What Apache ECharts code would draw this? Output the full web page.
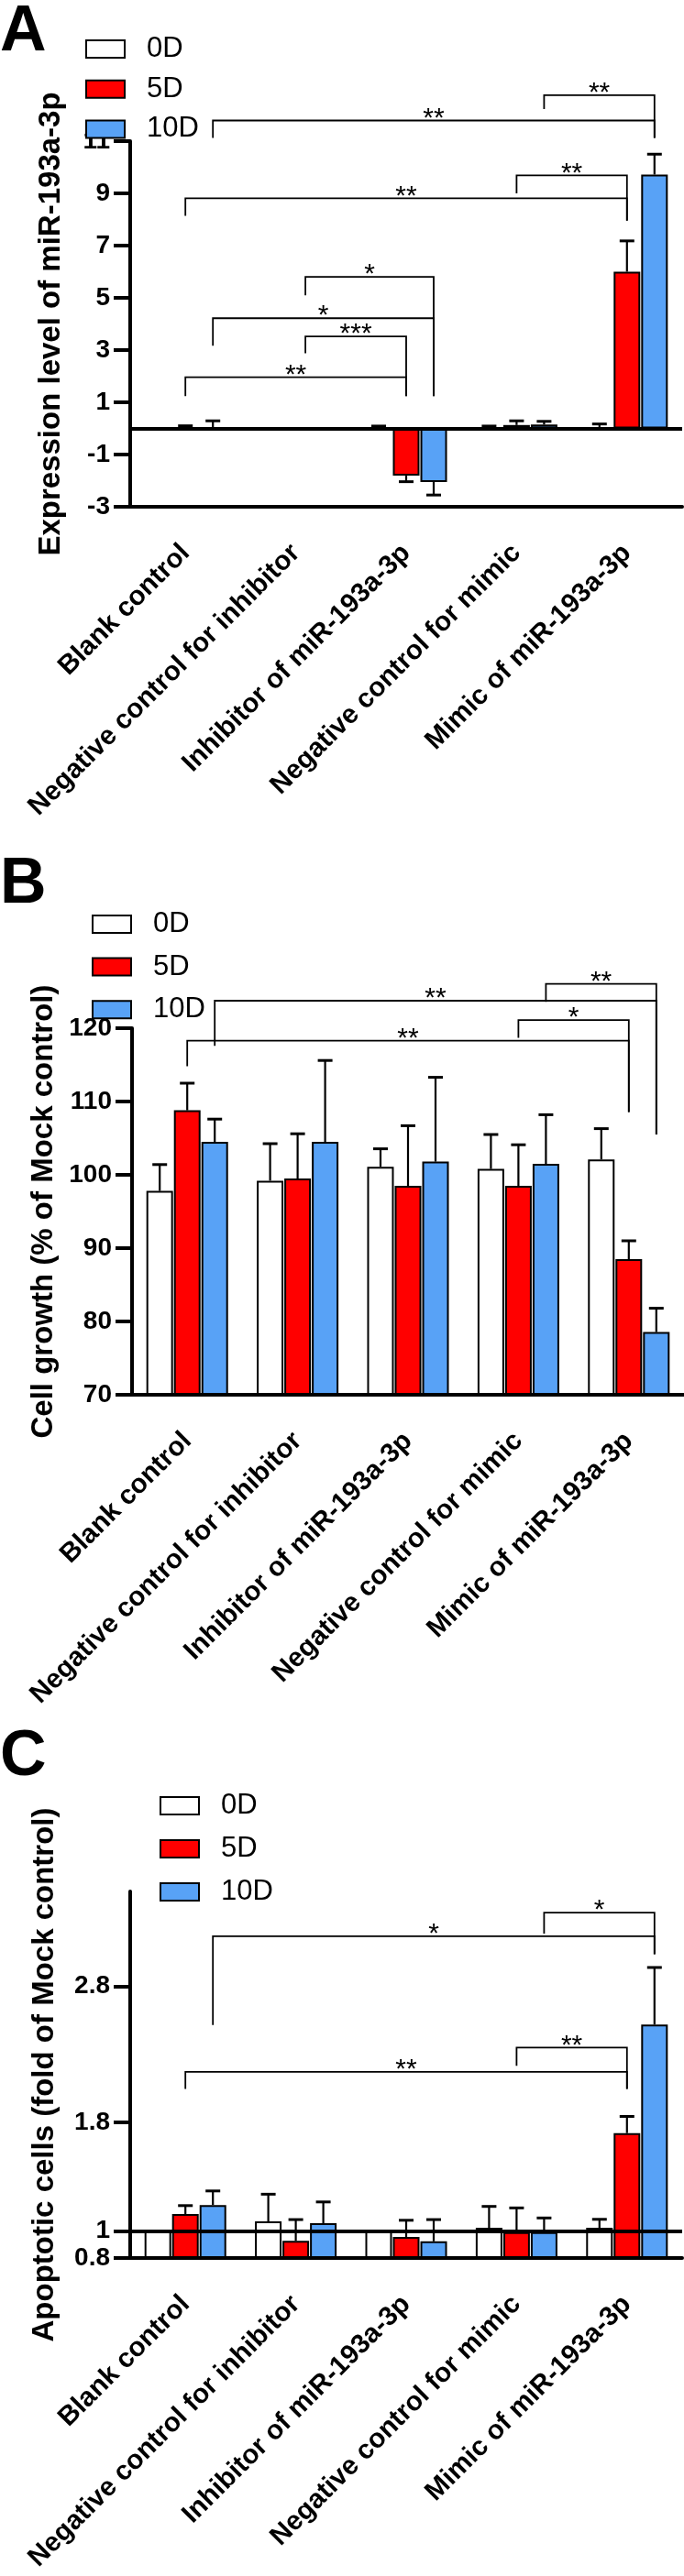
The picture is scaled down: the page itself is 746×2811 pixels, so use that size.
<!DOCTYPE html>
<html><head><meta charset="utf-8">
<script src="https://cdn.jsdelivr.net/npm/echarts@6.0.0/dist/echarts.min.js"></script>
<style>html,body{margin:0;padding:0;background:#fff}#chart{width:746px;height:2811px}</style>
</head><body><div id="chart"></div>
<script>
// ---------- data ----------
const categories = ['Blank control', 'Negative control for inhibitor', 'Inhibitor of miR-193a-3p', 'Negative control for mimic', 'Mimic of miR-193a-3p'];
const days = ['0D', '5D', '10D'];

// Panel A: expression level of miR-193a-3p
const exprTicks = [-3, -1, 1, 3, 5, 7, 9, 11];
const expr0D = [0, 0, 0.03, 0.03, 0.04];
const expr0DErr = [0, 0, 0.06, 0.06, 0.13];
const expr5D = [0.02, 0, -1.81, 0.13, 6.0];
const expr5DErr = [0.08, 0, 0.23, 0.16, 1.18];
const expr10D = [0.01, 0, -2.05, 0.15, 9.72];
const expr10DErr = [0.28, 0, 0.5, 0.12, 0.78];
// brackets: [cat1, bar1, cat2, bar2, level, leftEnd, rightEnd, label]
const exprBrackets = [
  [3, 2, 4, 2, 12.76, 12.23, 11.12, '**'],
  [0, 2, 4, 2, 11.79, 11.12, 11.12, '**'],
  [3, 1, 4, 1, 9.69, 9.0, 7.96, '**'],
  [0, 1, 4, 1, 8.81, 8.14, 7.96, '**'],
  [1, 1.35, 2, 2, 5.8, 5.1, 1.24, '*'],
  [0, 2, 2, 2, 4.22, 3.17, 1.24, '*'],
  [1, 1.35, 2, 1, 3.52, 2.88, 1.24, '***'],
  [0, 1, 2, 1, 1.96, 1.24, 1.24, '**']
];

// Panel B: cell growth
const growthTicks = [70, 80, 90, 100, 110, 120];
const growth0D = [97.8, 99.2, 101.1, 100.8, 102.1];
const growth0DErr = [3.6, 5.05, 2.45, 4.7, 4.2];
const growth5D = [108.8, 99.5, 98.5, 98.5, 88.5];
const growth5DErr = [3.7, 6.1, 8.2, 5.6, 2.5];
const growth10D = [104.5, 104.5, 101.8, 101.5, 78.55];
const growth10DErr = [3.1, 11.1, 11.5, 6.7, 3.25];
const growthBrackets = [
  [3, 2, 4, 2, 126.05, 123.6, 105.5, '**'],
  [0, 2, 4, 2, 123.75, 117.6, 105.5, '**'],
  [3, 1, 4, 1, 121.1, 118.7, 108.55, '*'],
  [0, 1, 4, 1, 118.3, 114.8, 108.55, '**']
];

// Panel C: apoptotic cells
const apopTicks = [0.8, 1, 1.8, 2.8];
const apop0D = [1.0, 1.07, 1.0, 1.022, 1.022];
const apop0DErr = [0, 0.2, 0, 0.158, 0.063];
const apop5D = [1.124, 0.926, 0.955, 0.99, 1.72];
const apop5DErr = [0.062, 0.157, 0.123, 0.179, 0.123];
const apop10D = [1.19, 1.056, 0.923, 0.99, 2.52];
const apop10DErr = [0.104, 0.157, 0.16, 0.105, 0.42];
const apopBrackets = [
  [3, 2, 4, 2, 3.344, 3.19, 3.037, '*'],
  [0, 2, 4, 2, 3.17, 2.517, 3.037, '*'],
  [3, 1, 4, 1, 2.35, 2.216, 2.045, '**'],
  [0, 1, 4, 1, 2.171, 2.045, 2.045, '**']
];

// ---------- styling / layout ----------
const FONT = '"Liberation Sans", Arial, Helvetica, sans-serif';
const COLORS = ['#ffffff', '#ff0000', '#58a2f6'];
const BAR_W = 29;
const SLOT = 30;

const panels = [
  { letter: 'A', letterTop: 1, grid: { left: 142, top: 154, width: 602, height: 399 },
    min: -3, max: 11, ticks: exprTicks, base: 0, ref: 0,
    name: 'Expression level of miR-193a-3p', nameGap: 70,
    values: [expr0D, expr5D, expr10D], errs: [expr0DErr, expr5DErr, expr10DErr],
    brackets: exprBrackets, legend: { left: 93, top: 38, gap: 12.7 } },
  { letter: 'B', letterTop: 931, grid: { left: 144, top: 1122, width: 602, height: 400 },
    min: 70, max: 120, ticks: growthTicks, base: 70, ref: null,
    name: 'Cell growth (% of Mock control)', nameGap: 77,
    values: [growth0D, growth5D, growth10D], errs: [growth0DErr, growth5DErr, growth10DErr],
    brackets: growthBrackets, legend: { left: 100, top: 993, gap: 15.6 } },
  { letter: 'C', letterTop: 1883, grid: { left: 142, top: 2064, width: 602, height: 400 },
    min: 0.8, max: 3.5, ticks: apopTicks, base: 0.8, ref: 1,
    name: 'Apoptotic cells (fold of Mock control)', nameGap: 77,
    values: [apop0D, apop5D, apop10D], errs: [apop0DErr, apop5DErr, apop10DErr],
    brackets: apopBrackets, legend: { left: 174, top: 1955, gap: 16 } }
];

const series = [];
panels.forEach((p, i) => {
  days.forEach((d, k) => {
    const s = {
      type: 'bar', name: d, xAxisIndex: i, yAxisIndex: i, data: p.values[k],
      barWidth: BAR_W, barGap: '3.5%', clip: true, z: 2,
      itemStyle: { color: COLORS[k], borderColor: '#000', borderWidth: 2, borderRadius: 0 },
      emphasis: { disabled: true }
    };
    if (k === 2 && p.ref !== null) {
      s.markLine = {
        silent: true, symbol: ['none', 'none'], label: { show: false },
        lineStyle: { color: '#000', width: 4, type: 'solid' },
        emphasis: { disabled: true }, data: [{ yAxis: p.ref }]
      };
    }
    series.push(s);
  });
  const errData = [];
  for (let k = 0; k < 3; k++) for (let c = 0; c < categories.length; c++) errData.push([c, p.values[k][c], p.errs[k][c], k]);
  series.push({
    type: 'custom', xAxisIndex: i, yAxisIndex: i, z: 4, silent: true,
    encode: { x: 0, y: 1 }, data: errData,
    renderItem: function (params, api) {
      const c = api.value(0), v = api.value(1), e = api.value(2), k = api.value(3);
      if (!(e > 0)) return { type: 'group', children: [] };
      const pt = api.coord([c, v]);
      const x = pt[0] + (k - 1) * SLOT;
      const tip = api.coord([c, v >= p.base ? v + e : v - e]);
      return { type: 'group', children: [
        { type: 'line', shape: { x1: x, y1: pt[1], x2: x, y2: tip[1] }, style: { stroke: '#000', lineWidth: 2.2 } },
        { type: 'line', shape: { x1: x - 8, y1: tip[1], x2: x + 8, y2: tip[1] }, style: { stroke: '#000', lineWidth: 3 } }
      ] };
    }
  });
  series.push({
    type: 'custom', xAxisIndex: i, yAxisIndex: i, z: 4, silent: true,
    encode: { x: 0, y: 4 }, data: p.brackets.map(b => b.slice(0, 7)),
    renderItem: function (params, api) {
      const b = p.brackets[params.dataIndex];
      const xa = api.coord([b[0], b[4]])[0] + (b[1] - 1) * SLOT;
      const xb = api.coord([b[2], b[4]])[0] + (b[3] - 1) * SLOT;
      const yl = api.coord([b[0], b[4]])[1];
      const ya = api.coord([b[0], b[5]])[1];
      const yb = api.coord([b[2], b[6]])[1];
      return { type: 'group', children: [
        { type: 'polyline', shape: { points: [[xa, ya], [xa, yl], [xb, yl], [xb, yb]] }, style: { stroke: '#000', lineWidth: 1.8, fill: null } },
        { type: 'text', style: { text: b[7], x: (xa + xb) / 2, y: yl - 2, fill: '#000', font: '30px ' + FONT, align: 'center', verticalAlign: 'middle' } }
      ] };
    }
  });
});

const option = {
  animation: false,
  backgroundColor: '#fff',
  textStyle: { fontFamily: FONT },
  title: panels.map(p => ({ text: p.letter, left: 0, top: p.letterTop, padding: 0,
    textStyle: { fontSize: 70, fontWeight: 'bold', color: '#000', fontFamily: FONT } })),
  legend: panels.map(p => ({
    data: days, orient: 'vertical', left: p.legend.left, top: p.legend.top, padding: 0,
    icon: 'rect', itemWidth: 42, itemHeight: 19, itemGap: p.legend.gap, selectedMode: false,
    textStyle: { fontSize: 31, color: '#000', fontFamily: FONT, lineHeight: 19, padding: [0, 0, 0, 19] }
  })),
  grid: panels.map(p => Object.assign({ containLabel: false, outerBoundsMode: 'none' }, p.grid)),
  xAxis: panels.map((p, i) => ({
    gridIndex: i, type: 'category', data: categories,
    axisLine: { onZero: false, lineStyle: { color: '#000', width: 4 } },
    axisTick: { alignWithLabel: true, interval: 0, length: 17, lineStyle: { color: '#000', width: 4 } },
    axisLabel: { interval: 0, rotate: 45, margin: 46, fontSize: 29.5, fontWeight: 'bold', color: '#000', fontFamily: FONT },
    splitLine: { show: false }
  })),
  yAxis: panels.map((p, i) => ({
    gridIndex: i, type: 'value', min: p.min, max: p.max, startValue: p.base,
    axisLine: { show: true, lineStyle: { color: '#000', width: 4 } },
    axisTick: { show: true, length: 18, lineStyle: { color: '#000', width: 4 }, customValues: p.ticks },
    axisLabel: { customValues: p.ticks, fontSize: 28, fontWeight: 'bold', color: '#000', margin: 22, fontFamily: FONT },
    splitLine: { show: false },
    name: p.name, nameLocation: 'middle', nameGap: p.nameGap,
    nameTextStyle: { fontSize: 33, fontWeight: 'bold', color: '#000', fontFamily: FONT }
  })),
  series: series
};

const chart = echarts.init(document.getElementById('chart'), null, { renderer: 'canvas' });
chart.setOption(option);
</script>
</body></html>
